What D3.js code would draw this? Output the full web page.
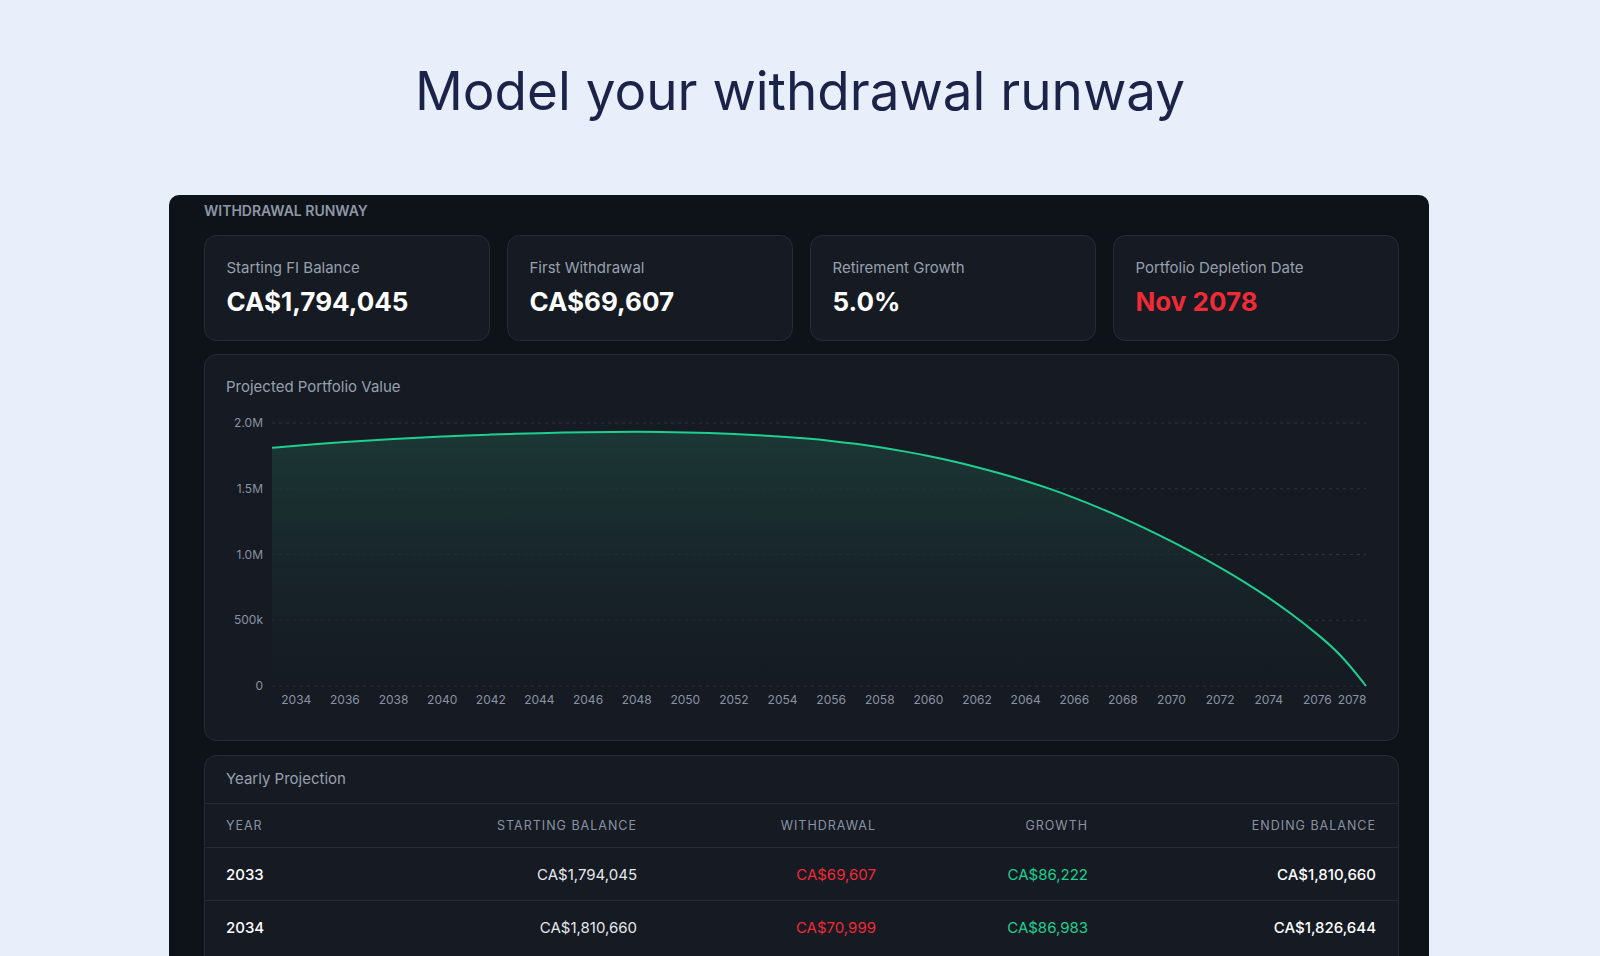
<!DOCTYPE html>
<html><head><meta charset="utf-8">
<script src="https://cdn.jsdelivr.net/npm/d3@7"></script>
<style>
body{margin:0;background:#e8eefa;font-family:Inter,"Noto Sans",sans-serif;}
</style></head>
<body><svg id="svg" width="1600" height="956"></svg>
<script>
const years = d3.range(2033, 2079);
// balance in millions
const balances = [1.811,1.827,1.842,1.855,1.867,1.878,1.888,1.897,1.905,1.912,1.918,1.923,1.927,1.930,1.932,1.933,1.932,1.929,1.924,1.917,1.908,1.896,
  1.882,1.864,1.842,1.816,1.785,1.750,1.710,
  1.665,1.615,1.560,1.500,1.432,1.358,1.278,1.192,1.100,1.004,0.902,0.792,0.672,0.540,0.395,0.235,0.000];
const yTicks = [0, 0.5, 1.0, 1.5, 2.0];
const yTickLabels = ["0", "500k", "1.0M", "1.5M", "2.0M"];
const stats = [
  ["Starting FI Balance", "CA$1,794,045", "#ffffff"],
  ["First Withdrawal", "CA$69,607", "#ffffff"],
  ["Retirement Growth", "5.0%", "#ffffff"],
  ["Portfolio Depletion Date", "Nov 2078", "#ef2b36"]
];
const columns = ["YEAR", "STARTING BALANCE", "WITHDRAWAL", "GROWTH", "ENDING BALANCE"];
const rows = [
  ["2033", "CA$1,794,045", "CA$69,607", "CA$86,222", "CA$1,810,660"],
  ["2034", "CA$1,810,660", "CA$70,999", "CA$86,983", "CA$1,826,644"]
];

const svg = d3.select("#svg");
svg.append("text").attr("x", 800).attr("y", 110).attr("text-anchor", "middle")
  .attr("font-size", 53).attr("fill", "#1b2448").text("Model your withdrawal runway");

svg.append("rect").attr("x", 169).attr("y", 195).attr("width", 1260).attr("height", 800)
  .attr("rx", 10).attr("fill", "#0e1219");
svg.append("text").attr("x", 204).attr("y", 216).attr("font-size", 14).attr("font-weight", 600)
  .attr("fill", "#8e97a6").text("WITHDRAWAL RUNWAY");

const card = (x, y, w, h) => svg.append("rect").attr("x", x).attr("y", y).attr("width", w).attr("height", h)
  .attr("rx", 12).attr("fill", "#151a23").attr("stroke", "#262c37");

stats.forEach((s, i) => {
  const x = 204.5 + i * 303;
  card(x, 235.5, 285, 105);
  svg.append("text").attr("x", x + 22).attr("y", 273).attr("font-size", 15).attr("fill", "#98a0ad").text(s[0]);
  svg.append("text").attr("x", x + 22).attr("y", 311).attr("font-size", 26).attr("font-weight", 700).attr("fill", s[2]).text(s[1]);
});

// chart
card(204.5, 354.5, 1194, 386);
svg.append("text").attr("x", 226).attr("y", 392).attr("font-size", 15).attr("fill", "#98a0ad").text("Projected Portfolio Value");

const x = d3.scaleLinear().domain([2033, 2078]).range([272, 1366]);
const y = d3.scaleLinear().domain([0, 2.0]).range([686, 423]);
const defs = svg.append("defs");
const grad = defs.append("linearGradient").attr("id", "g").attr("x1", 0).attr("x2", 0).attr("y1", 0).attr("y2", 1);
grad.append("stop").attr("offset", 0).attr("stop-color", "#1c3b37").attr("stop-opacity", 0.9);
grad.append("stop").attr("offset", 1).attr("stop-color", "#151a23").attr("stop-opacity", 0.6);

const gy = svg.append("g");
yTicks.forEach((t, i) => {
  gy.append("line").attr("x1", 272).attr("x2", 1366).attr("y1", y(t)).attr("y2", y(t))
    .attr("stroke", "#2f3541").attr("stroke-dasharray", "3,4");
  gy.append("text").attr("x", 263).attr("y", y(t) + 4).attr("text-anchor", "end")
    .attr("font-size", 12).attr("fill", "#8a93a2").text(yTickLabels[i]);
});

const data = years.map((yr, i) => [yr, balances[i]]);
svg.append("path").datum(data).attr("fill", "url(#g)")
  .attr("d", d3.area().x(d => x(d[0])).y0(y(0)).y1(d => y(d[1])).curve(d3.curveBasis));
svg.append("path").datum(data).attr("fill", "none").attr("stroke", "#1fcf8e").attr("stroke-width", 2)
  .attr("d", d3.line().x(d => x(d[0])).y(d => y(d[1])).curve(d3.curveBasis));

years.filter(yr => yr % 2 === 0).forEach(yr => {
  const px = Math.min(x(yr), 1352);
  svg.append("text").attr("x", px).attr("y", 704).attr("text-anchor", "middle")
    .attr("font-size", 12).attr("fill", "#8a93a2").text(yr);
});

// table
card(204.5, 755.5, 1194, 260);
svg.append("text").attr("x", 226).attr("y", 784).attr("font-size", 15).attr("fill", "#98a0ad").text("Yearly Projection");
[803.5, 847.5, 900.5].forEach(ly => svg.append("line").attr("x1", 205).attr("x2", 1398)
  .attr("y1", ly).attr("y2", ly).attr("stroke", "#262c37"));
const colX = [226, 637, 876, 1088, 1376];
const colColor = ["#ffffff", "#e6e8ec", "#ef2b36", "#1fcf8e", "#ffffff"];
columns.forEach((c, i) => {
  svg.append("text").attr("x", colX[i]).attr("y", 830).attr("text-anchor", i ? "end" : "start")
    .attr("font-size", 12.5).attr("letter-spacing", 1).attr("fill", "#8a93a2").text(c);
});
rows.forEach((r, j) => {
  r.forEach((v, i) => {
    svg.append("text").attr("x", colX[i]).attr("y", 880 + j * 53).attr("text-anchor", i ? "end" : "start")
      .attr("font-size", 15).attr("font-weight", i === 0 || i === 4 ? 500 : 400)
      .attr("fill", colColor[i]).text(v);
  });
});
</script></body></html>
